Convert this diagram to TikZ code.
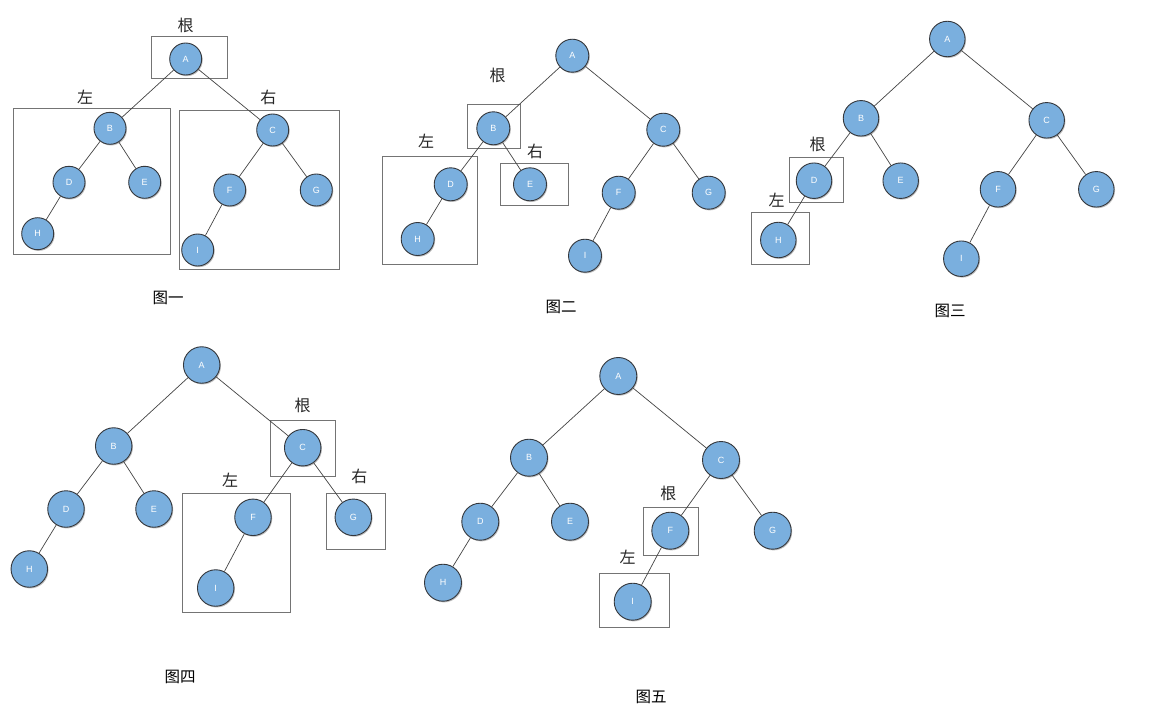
\documentclass[tikz,border=0pt]{standalone}
\usepackage{fontspec}
\setmainfont{Liberation Sans}
\newfontfamily\cjk{Noto Sans CJK SC}
\usetikzlibrary{shadows}
\definecolor{nodefill}{HTML}{7AAFDE}
\definecolor{nodeline}{HTML}{34373C}
\definecolor{edgecol}{HTML}{444444}
\definecolor{boxcol}{HTML}{747474}
\tikzset{
  tn/.style={circle, fill=nodefill, draw=nodeline, line width=0.9pt, inner sep=0pt,
    minimum size=#1, text=white, font=\fontsize{9}{10}\selectfont,
    drop shadow={shadow xshift=1pt, shadow yshift=-1.2pt, opacity=0.25, fill=black}},
  tn/.default=32pt,
  edge/.style={draw=edgecol, line width=0.7pt},
  boxn/.style={draw=boxcol, line width=1pt, inner sep=0pt, fill=none},
  lab/.style={font=\cjk\fontsize{16}{18}\selectfont, text=black!85, inner sep=0pt},
  captxt/.style={font=\cjk\fontsize{15.5}{18}\selectfont, text=black, inner sep=0pt}
}
\newcommand{\bx}[5]{% name, x1, y1, x2, y2
  \node[boxn, minimum width={#4-#2}, minimum height={#5-#3}] (#1) at ({(#2+#4)/2},{(#3+#5)/2}) {};}
\begin{document}
\begin{tikzpicture}[x=1pt,y=-1pt]
\useasboundingbox (0,0) rectangle (1160,720);
\fill[white] (0,0) rectangle (1160,720);

% ---------- Figure 1 ----------
\bx{r1}{151.5}{36.5}{227.5}{78.5}
\bx{l1}{13.5}{108.5}{170.5}{254.5}
\bx{rr1}{179.5}{110.5}{339.5}{269.5}
\begin{scope}[every node/.append style={tn=32pt}]
\node (A1) at (185.7,59) {A};
\node (B1) at (110,128.3) {B};
\node (C1) at (272.7,130) {C};
\node (D1) at (69,182.3) {D};
\node (E1) at (144.7,182.3) {E};
\node (F1) at (229.7,190) {F};
\node (G1) at (316.3,190) {G};
\node (H1) at (37.7,233.7) {H};
\node (I1) at (197.7,250) {I};
\end{scope}
\draw[edge] (A1)--(B1) (A1)--(C1) (B1)--(D1) (B1)--(E1) (D1)--(H1) (C1)--(F1) (C1)--(G1) (F1)--(I1);
\node[lab] (g1) at (185.7,25) {根};
\node[lab] (z1) at (85,97.3) {左};
\node[lab] (y1) at (268.3,97.3) {右};
\node[captxt] (t1) at (168,298) {图一};

% ---------- Figure 2 ----------
\bx{r2}{467.5}{104.5}{520.5}{148.5}
\bx{l2}{382.5}{156.5}{477.5}{264.5}
\bx{rr2}{500.5}{163.5}{568.5}{205.5}
\begin{scope}[every node/.append style={tn=33pt}]
\node (A2) at (572.3,55.7) {A};
\node (B2) at (493.3,128.3) {B};
\node (C2) at (663.3,129.7) {C};
\node (D2) at (450.7,184.3) {D};
\node (E2) at (530,184.3) {E};
\node (F2) at (618.7,192.7) {F};
\node (G2) at (708.7,192.7) {G};
\node (H2) at (417.7,239) {H};
\node (I2) at (585,255.7) {I};
\end{scope}
\draw[edge] (A2)--(B2) (A2)--(C2) (B2)--(D2) (B2)--(E2) (D2)--(H2) (C2)--(F2) (C2)--(G2) (F2)--(I2);
\node[lab] (g2) at (497.7,75.7) {根};
\node[lab] (z2) at (426,140.7) {左};
\node[lab] (y2) at (535,151.7) {右};
\node[captxt] (t2) at (561,307) {图二};

% ---------- Figure 3 ----------
\bx{r3}{789.5}{157.5}{843.5}{202.5}
\bx{l3}{751.5}{212.5}{809.5}{264.5}
\begin{scope}[every node/.append style={tn=35.5pt}]
\node (A3) at (947.3,39) {A};
\node (B3) at (861,118.3) {B};
\node (C3) at (1046.7,120.3) {C};
\node (D3) at (814,180.7) {D};
\node (E3) at (900.7,180.7) {E};
\node (F3) at (998,189.3) {F};
\node (G3) at (1096.3,189.3) {G};
\node (H3) at (778.3,240) {H};
\node (I3) at (961.3,258.7) {I};
\end{scope}
\draw[edge] (A3)--(B3) (A3)--(C3) (B3)--(D3) (B3)--(E3) (D3)--(H3) (C3)--(F3) (C3)--(G3) (F3)--(I3);
\node[lab] (g3) at (817.7,144) {根};
\node[lab] (z3) at (776.7,200) {左};
\node[captxt] (t3) at (950,311) {图三};

% ---------- Figure 4 ----------
\bx{r4}{270.5}{420.5}{335.5}{476.5}
\bx{l4}{182.5}{493.5}{290.5}{612.5}
\bx{rr4}{326.5}{493.5}{385.5}{549.5}
\begin{scope}[every node/.append style={tn=36.5pt}]
\node (A4) at (201.7,365) {A};
\node (B4) at (113.7,446) {B};
\node (C4) at (302.7,447.7) {C};
\node (D4) at (66,509) {D};
\node (E4) at (154,509) {E};
\node (F4) at (253,517.3) {F};
\node (G4) at (353.3,517.3) {G};
\node (H4) at (29.3,569) {H};
\node (I4) at (215.7,588) {I};
\end{scope}
\draw[edge] (A4)--(B4) (A4)--(C4) (B4)--(D4) (B4)--(E4) (D4)--(H4) (C4)--(F4) (C4)--(G4) (F4)--(I4);
\node[lab] (g4) at (302.7,405.7) {根};
\node[lab] (z4) at (230,480) {左};
\node[lab] (y4) at (359.3,476.7) {右};
\node[captxt] (t4) at (180,677) {图四};

% ---------- Figure 5 ----------
\bx{r5}{643.5}{507.5}{698.5}{555.5}
\bx{l5}{599.5}{573.5}{669.5}{627.5}
\begin{scope}[every node/.append style={tn=37pt}]
\node (A5) at (618.3,376) {A};
\node (B5) at (529,457.7) {B};
\node (C5) at (721,460) {C};
\node (D5) at (480.3,521.7) {D};
\node (E5) at (570,521.7) {E};
\node (F5) at (670.3,530.7) {F};
\node (G5) at (772.7,530.7) {G};
\node (H5) at (443,582.7) {H};
\node (I5) at (632.7,601.7) {I};
\end{scope}
\draw[edge] (A5)--(B5) (A5)--(C5) (B5)--(D5) (B5)--(E5) (D5)--(H5) (C5)--(F5) (C5)--(G5) (F5)--(I5);
\node[lab] (g5) at (668.3,493.3) {根};
\node[lab] (z5) at (627.7,556.7) {左};
\node[captxt] (t5) at (651,697) {图五};
\end{tikzpicture}
\end{document}
